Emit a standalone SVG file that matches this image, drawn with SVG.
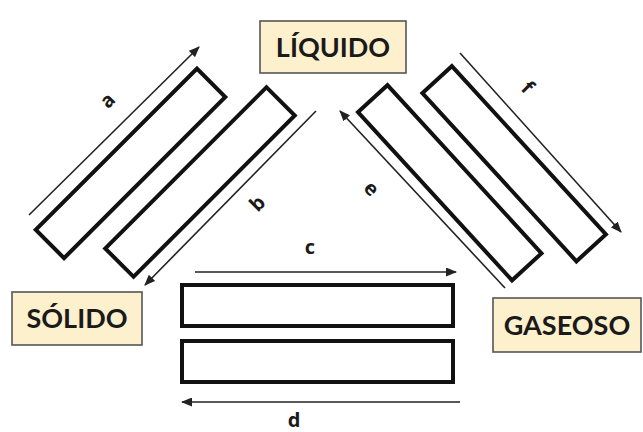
<svg xmlns="http://www.w3.org/2000/svg" width="643" height="432" viewBox="0 0 643 432">
<defs>
<style>
.bar{fill:#fff;stroke:#111;stroke-width:4}
.box{fill:#fdf0cc;stroke:#555;stroke-width:1.6}
.state{font-family:Lato,"Open Sans",sans-serif;font-weight:700;font-size:27px;fill:#1a1a1a;text-anchor:middle}
.lbl{font-family:"Open Sans",Lato,sans-serif;font-weight:700;font-size:20px;fill:#1a1a1a;text-anchor:middle;dominant-baseline:central}
.arr{stroke:#222;stroke-width:1.6;fill:none;marker-end:url(#ah)}
</style>
<marker id="ah" markerUnits="userSpaceOnUse" markerWidth="11" markerHeight="9" refX="10" refY="4.5" orient="auto">
<path d="M0,0 L11,4.5 L0,9 z" fill="#222"/>
</marker>
</defs>
<rect width="643" height="432" fill="#fff"/>
<g id="liquido">
<rect class="box" x="260" y="21" width="146" height="52"/>
<text class="state" x="333" y="57">LÍQUIDO</text>
</g>
<g id="solido">
<rect class="box" x="12" y="292" width="130" height="53"/>
<text class="state" x="77" y="328">SÓLIDO</text>
</g>
<g id="gaseoso">
<rect class="box" x="493" y="298" width="148" height="54"/>
<text class="state" x="567" y="335">GASEOSO</text>
</g>
<g id="bars">
<rect class="bar" x="-114" y="-20" width="228" height="40" transform="translate(130.5,163.4) rotate(-45)"/>
<rect class="bar" x="-114" y="-20" width="228" height="40" transform="translate(200,182) rotate(-45)"/>
<rect class="bar" x="-114" y="-20" width="228" height="40" transform="translate(449.75,182.75) rotate(47.5)"/>
<rect class="bar" x="-114" y="-20" width="228" height="40" transform="translate(514.15,163.75) rotate(47.5)"/>
<rect class="bar" x="182" y="285" width="271" height="41"/>
<rect class="bar" x="182" y="341" width="271" height="41"/>
</g>
<g id="connectors">
<line class="arr" x1="29" y1="215" x2="199" y2="47"/>
<line class="arr" x1="316" y1="111" x2="145" y2="285"/>
<line class="arr" x1="195" y1="272" x2="456" y2="272"/>
<line class="arr" x1="460" y1="402" x2="182" y2="402"/>
<line class="arr" x1="505" y1="288" x2="340" y2="111"/>
<line class="arr" x1="460" y1="53" x2="621" y2="232"/>
</g>
<g id="labels">
<text class="lbl" transform="translate(107,100) rotate(-45)">a</text>
<text class="lbl" transform="translate(257,203) rotate(-45)">b</text>
<text class="lbl" x="310" y="246">c</text>
<text class="lbl" x="294" y="419">d</text>
<text class="lbl" transform="translate(372,188) rotate(45)">e</text>
<text class="lbl" transform="translate(528,87) rotate(45)">f</text>
</g>
</svg>
